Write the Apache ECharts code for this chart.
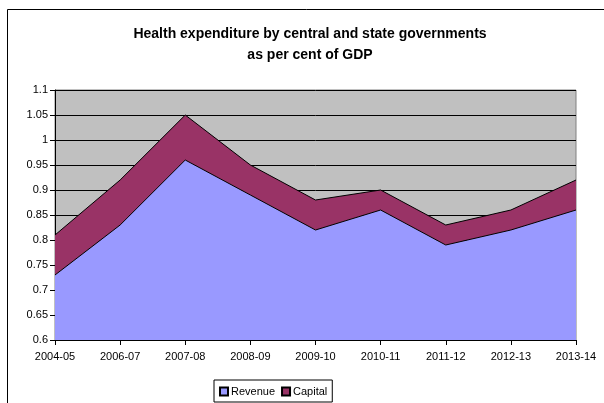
<!DOCTYPE html>
<html><head><meta charset="utf-8">
<script src="https://cdn.jsdelivr.net/npm/echarts@6/dist/echarts.min.js"></script>
<style>html,body{margin:0;padding:0;background:#fff}#c{width:604px;height:403px}</style>
</head><body><div id="c"></div>
<script>
const categories = ['2004-05','2006-07','2007-08','2008-09','2009-10','2010-11','2011-12','2012-13','2013-14'];
const revenue = [0.73,0.83,0.96,0.89,0.82,0.86,0.79,0.82,0.86];
const capital = [0.08,0.09,0.09,0.06,0.06,0.04,0.04,0.04,0.06];
const titleLines = ['Health expenditure by central and state governments','as per cent of GDP'];
const seriesNames = ['Revenue','Capital'];

const chart = echarts.init(document.getElementById('c'), null, {renderer:'canvas'});
const font = '"Liberation Sans", Arial, sans-serif';
chart.setOption({
  animation:false,
  backgroundColor:'#fff',
  title:{text:titleLines.join('\n'), left:305, textAlign:'center', top:19,
    textStyle:{fontFamily:font, fontSize:14, fontWeight:'bold', color:'#000', lineHeight:21}},
  graphic:[{type:'rect', shape:{x:7.5,y:9.5,width:700,height:500}, style:{fill:null, stroke:'#000', lineWidth:1}, silent:true, z:-1}],
  legend:{data:seriesNames, bottom:1, left:214, itemWidth:8, itemHeight:8, itemGap:6,
    borderColor:'#000', borderWidth:1, padding:[6,5,5,5], icon:'rect',
    textStyle:{fontFamily:font, fontSize:11, color:'#000', padding:[0,0,0,-2]}},
  grid:{left:55, right:28, top:90, bottom:63, show:true, backgroundColor:'#C0C0C0', borderColor:'#808080', borderWidth:1},
  xAxis:{type:'category', data:categories, boundaryGap:false,
    axisLine:{lineStyle:{color:'#000'}}, axisTick:{show:true, alignWithLabel:true, length:5, lineStyle:{color:'#000'}},
    axisLabel:{fontFamily:font, fontSize:11, color:'#000', margin:11, interval:0}},
  yAxis:{type:'value', min:0.6, max:1.1, interval:0.05,
    axisLine:{show:true, lineStyle:{color:'#000'}}, axisTick:{show:true, length:5, lineStyle:{color:'#000'}},
    splitLine:{lineStyle:{color:'#000', width:1}},
    axisLabel:{fontFamily:font, fontSize:11, color:'#000', margin:7, formatter:v=>String(parseFloat(v.toFixed(2)))}},
  series:[
    {name:seriesNames[0], type:'line', stack:'t', data:revenue, symbol:'none', color:'#9999FF',
      lineStyle:{color:'#000', width:1}, areaStyle:{color:'#9999FF', opacity:1},
      itemStyle:{color:'#9999FF', borderColor:'#000', borderWidth:1}},
    {name:seriesNames[1], type:'line', stack:'t', data:capital, symbol:'none', color:'#993366',
      lineStyle:{color:'#000', width:1}, areaStyle:{color:'#993366', opacity:1},
      itemStyle:{color:'#993366', borderColor:'#000', borderWidth:1}}
  ]
});
</script></body></html>
